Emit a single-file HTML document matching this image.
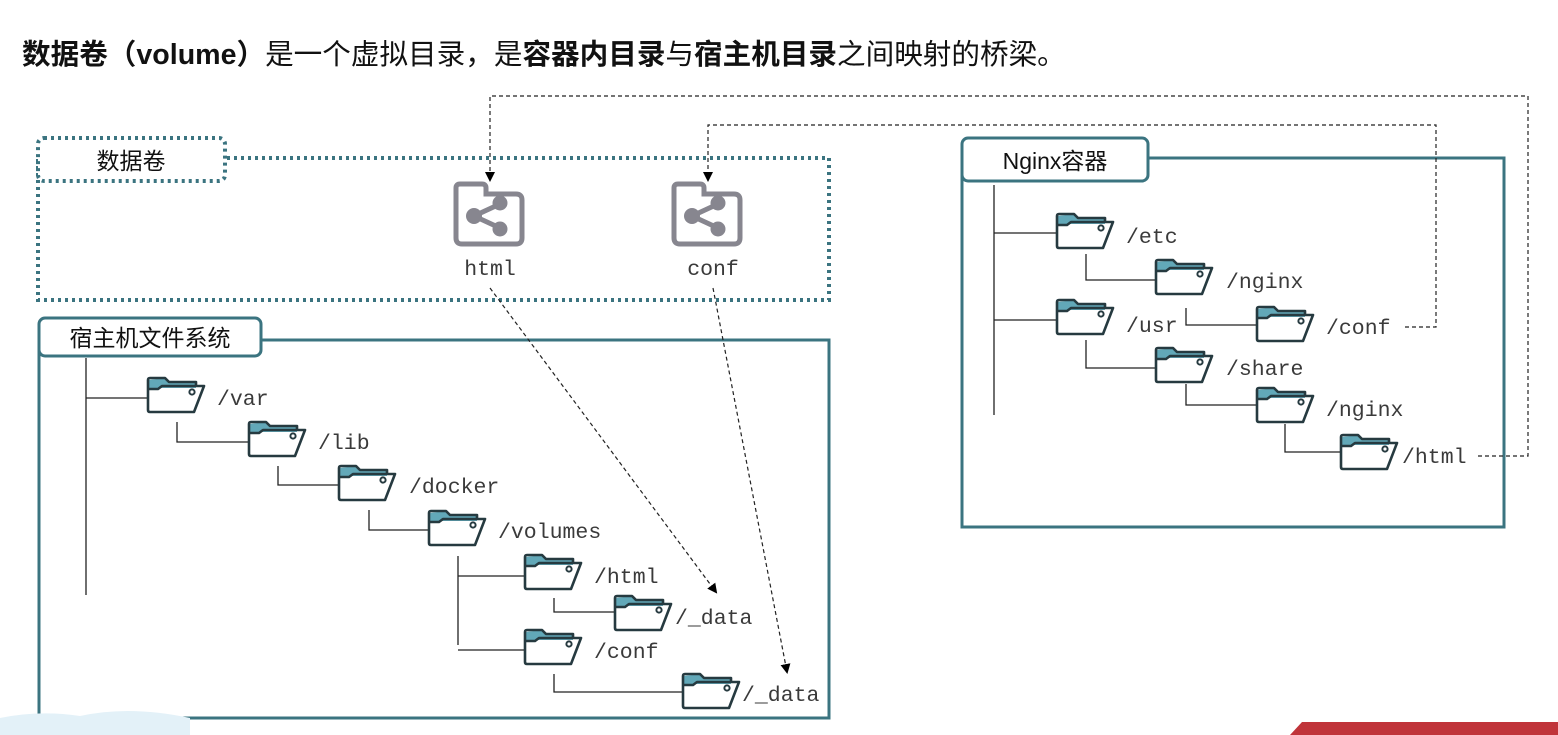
<!DOCTYPE html>
<html><head><meta charset="utf-8"><style>
html,body{margin:0;padding:0;background:#fff;width:1558px;height:735px;overflow:hidden}
svg text{font-family:"Liberation Mono","DejaVu Sans Mono",monospace;font-size:21.5px;fill:#3a3a3a}
.cn{font-family:"Liberation Sans","Noto Sans CJK SC",sans-serif;fill:#111}
</style></head><body>
<svg width="1558" height="735" viewBox="0 0 1558 735" xmlns="http://www.w3.org/2000/svg">
<defs>
<g id="f">
<polygon points="2,4 19,2 23,6 50,6 50,12 2,12" fill="#62a8b8"/>
<path d="M2,12 V4 Q2,2 4,2 H19 L23,6 H50 V10 M2,5 V34 Q2,36 4,36 H48 L58,10 H16 L12,13 H2" fill="none" stroke="#263a40" stroke-width="2.6" stroke-linejoin="round"/>
<circle cx="46" cy="16" r="2.6" fill="none" stroke="#263a40" stroke-width="2"/>
</g>
<g id="v">
<path d="M8,4 H30 Q34,4 34,8 V14 H64 Q70,14 70,20 V58 Q70,64 64,64 H10 Q4,64 4,58 V8 Q4,4 8,4 Z" fill="none" stroke="#87868f" stroke-width="5"/>
<line x1="22" y1="36" x2="48" y2="24" stroke="#87868f" stroke-width="5"/>
<line x1="22" y1="36" x2="48" y2="48" stroke="#87868f" stroke-width="5"/>
<circle cx="22" cy="36" r="8" fill="#87868f"/><circle cx="48" cy="23" r="7.5" fill="#87868f"/><circle cx="48" cy="49" r="7.5" fill="#87868f"/>
</g>
<marker id="a" markerWidth="10" markerHeight="10" refX="8" refY="5" orient="auto" markerUnits="userSpaceOnUse"><path d="M0,0 L10,5 L0,10 Z" fill="#000"/></marker>
</defs>
<text x="22" y="64" class="cn" style="font-size:28.6px"><tspan font-weight="bold">数据卷（volume）</tspan>是一个虚拟目录，是<tspan font-weight="bold">容器内目录</tspan>与<tspan font-weight="bold">宿主机目录</tspan>之间映射的桥梁。</text>

<rect x="38" y="158" width="791" height="142" fill="none" stroke="#3b7480" stroke-width="4" stroke-dasharray="3,4"/>
<rect x="38" y="138" width="187" height="43" rx="6" fill="#fff" stroke="#3b7480" stroke-width="4" stroke-dasharray="3,4"/>
<text x="131" y="169" class="cn" text-anchor="middle" style="font-size:23px">数据卷</text>
<use href="#v" x="452" y="180"/><use href="#v" x="670" y="180"/>
<text x="490" y="275" text-anchor="middle">html</text>
<text x="713" y="275" text-anchor="middle">conf</text>

<rect x="39" y="340" width="790" height="378" fill="none" stroke="#3b7480" stroke-width="3"/>
<rect x="39" y="318" width="222" height="38" rx="6" fill="#fff" stroke="#3b7480" stroke-width="3"/>
<text x="150" y="346" class="cn" text-anchor="middle" style="font-size:23px">宿主机文件系统</text>
<g stroke="#222" stroke-width="1.3" fill="none">
<path d="M86,358 V595 M86,398 H147"/>
<path d="M177,422 V442 H248"/>
<path d="M278,466 V485 H338"/>
<path d="M369,510 V530 H428"/>
<path d="M458,556 V645 M458,576 H524 M458,650 H524"/>
<path d="M554,598 V612 H614"/>
<path d="M554,674 V692 H682"/>
</g>
<use href="#f" x="146" y="376"/><text x="217" y="405">/var</text>
<use href="#f" x="247" y="420"/><text x="318" y="449">/lib</text>
<use href="#f" x="337" y="464"/><text x="409" y="493">/docker</text>
<use href="#f" x="427" y="509"/><text x="498" y="538">/volumes</text>
<use href="#f" x="523" y="553"/><text x="594" y="583">/html</text>
<use href="#f" x="613" y="594"/><text x="675" y="624">/_data</text>
<use href="#f" x="523" y="628"/><text x="594" y="658">/conf</text>
<use href="#f" x="681" y="672"/><text x="742" y="701">/_data</text>

<rect x="962" y="158" width="542" height="369" fill="none" stroke="#3b7480" stroke-width="3"/>
<rect x="962" y="138" width="186" height="43" rx="6" fill="#fff" stroke="#3b7480" stroke-width="3"/>
<text x="1055" y="169" class="cn" text-anchor="middle" style="font-size:23px">Nginx容器</text>
<g stroke="#222" stroke-width="1.3" fill="none">
<path d="M994,185 V415 M994,233 H1056 M994,320 H1056"/>
<path d="M1086,254 V280 H1155"/>
<path d="M1186,308 V325 H1256"/>
<path d="M1086,340 V368 H1155"/>
<path d="M1186,384 V405 H1256"/>
<path d="M1285,424 V452 H1340"/>
</g>
<use href="#f" x="1055" y="212"/><text x="1126" y="243">/etc</text>
<use href="#f" x="1154" y="258"/><text x="1226" y="288">/nginx</text>
<use href="#f" x="1055" y="298"/><text x="1126" y="332">/usr</text>
<use href="#f" x="1255" y="305"/><text x="1326" y="334">/conf</text>
<use href="#f" x="1154" y="346"/><text x="1226" y="375">/share</text>
<use href="#f" x="1255" y="386"/><text x="1326" y="416">/nginx</text>
<use href="#f" x="1339" y="433"/><text x="1402" y="463">/html</text>

<g stroke="#222" stroke-width="1.2" fill="none" stroke-dasharray="4,3">
<path d="M1478,456 H1528 V96 H490 V180" marker-end="url(#a)"/>
<path d="M1405,327 H1436 V125 H708 V180" marker-end="url(#a)"/>
<path d="M490,288 L716,592" marker-end="url(#a)"/>
<path d="M713,288 L787,672" marker-end="url(#a)"/>
</g>
<path d="M0,718 Q40,710 80,716 Q130,705 190,718 V735 H0 Z" fill="#e3f1f8"/>
<path d="M1290,735 L1302,722 H1558 V735 Z" fill="#c0343a"/>
</svg>
</body></html>
